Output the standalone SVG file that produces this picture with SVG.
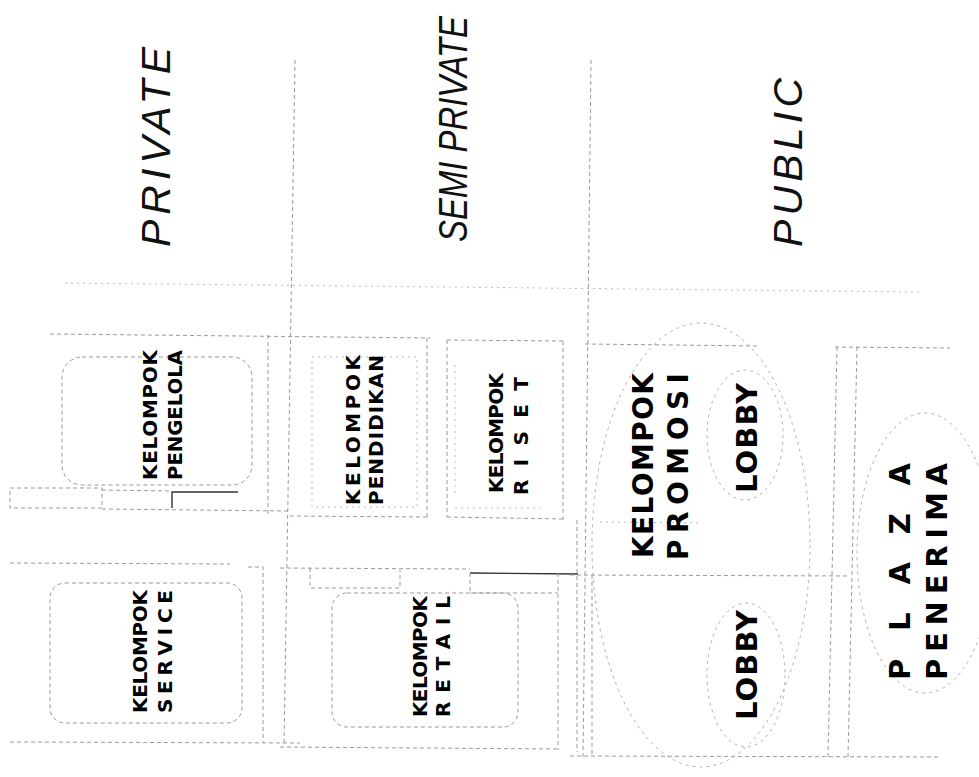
<svg xmlns="http://www.w3.org/2000/svg" width="979" height="777" viewBox="0 0 979 777">
<style>
.d{fill:none;stroke:#9a9a9a;stroke-width:1;stroke-dasharray:4 3}
.f{fill:none;stroke:#bbbbbb;stroke-width:1;stroke-dasharray:2 4}
.s{fill:none;stroke:#333;stroke-width:1.4}
.e{fill:none;stroke:#b0b0b0;stroke-width:1;stroke-dasharray:3 4}
.h{font-family:"Liberation Sans",Arial,sans-serif;font-style:italic;font-size:41px;fill:#111}
.l{font-family:"DejaVu Sans","Liberation Sans",sans-serif;font-weight:bold;font-size:20px;fill:#000}
.b{font-family:"DejaVu Sans","Liberation Sans",sans-serif;font-weight:bold;font-size:29px;fill:#000}
</style>
<rect width="979" height="777" fill="#fff"/>

<g id="zones">
  <text class="h" transform="translate(170,247) rotate(-90)" textLength="200" lengthAdjust="spacing">PRIVATE</text>
  <text class="h" style="font-size:33px" transform="translate(467,242) rotate(-90) scale(1,1.22)" textLength="226" lengthAdjust="spacingAndGlyphs">SEMI PRIVATE</text>
  <text class="h" transform="translate(802,247) rotate(-90)" textLength="169" lengthAdjust="spacing">PUBLIC</text>
</g>

<g id="connectors">
  <!-- main zone dividers -->
  <path class="d" d="M295,60 L284,745"/>
  <path class="d" d="M591,60 L583,757"/>
  <!-- long horizontals -->
  <path class="f" d="M65,283 L920,292"/>
  <path class="d" d="M50,334 L430,338"/>
  <path class="d" d="M585,344 L760,346"/>
  <path class="d" d="M835,347 L950,348"/>
  <!-- private region -->
  <path class="d" d="M268,335 L268,515"/>
  <rect class="d" x="10" y="488" width="92" height="20"/>
  <path class="d" d="M102,490 L172,491"/>
  <path class="s" d="M172,508 L172,492 L238,492"/>
  <path class="d" d="M102,509 L290,511"/>
  <path class="d" d="M10,563 L230,564"/>
  <path class="d" d="M248,567 H263 V742"/>
  <path class="d" d="M10,742 L300,743"/>
  <!-- semi private region -->
  <path class="d" d="M290,516 L430,517 M427,338 L427,517"/>
  <path class="d" d="M447,340 L563,341 M447,340 L447,517 M563,341 L563,520 M447,517 L563,519"/>
  <path class="f" d="M455,365 L455,493 M455,508 L540,508"/>
  <path class="d" d="M280,568 L470,569"/>
  <path class="d" d="M310,568 V588 H400 V570"/>
  <path class="s" d="M470,573 L578,574"/>
  <path class="d" d="M470,573 V593 H558 M558,573 V750"/>
  <path class="d" d="M280,747 L560,749"/>
  <path class="d" d="M577,520 L577,752 M592,575 L592,755"/>
  <!-- public region -->
  <path class="f" d="M600,522 L700,523"/>
  <path class="d" d="M570,575 L850,576"/>
  <path class="d" d="M570,756 L940,757"/>
  <path class="d" d="M837,347 L828,757 M857,347 L848,757"/>
</g>

<g id="pengelola">
  <rect class="d" x="62" y="357" width="190" height="128" rx="20"/>
  <text class="l" transform="translate(157,480) rotate(-90)" textLength="130" lengthAdjust="spacing">KELOMPOK</text>
  <text class="l" transform="translate(182,480) rotate(-90)" textLength="130" lengthAdjust="spacingAndGlyphs">PENGELOLA</text>
</g>

<g id="service">
  <rect class="d" x="50" y="583" width="192" height="140" rx="15"/>
  <text class="l" transform="translate(147,713) rotate(-90)" textLength="123" lengthAdjust="spacing">KELOMPOK</text>
  <text class="l" transform="translate(172,713) rotate(-90)" textLength="123" lengthAdjust="spacing">SERVICE</text>
</g>

<g id="pendidikan">
  <rect class="f" x="312" y="357" width="105" height="150"/>
  <text class="l" transform="translate(360,505) rotate(-90)" textLength="150" lengthAdjust="spacing">KELOMPOK</text>
  <text class="l" transform="translate(383,505) rotate(-90)" textLength="150" lengthAdjust="spacing">PENDIDIKAN</text>
</g>

<g id="riset">
  <text class="l" transform="translate(503,493) rotate(-90)" textLength="120" lengthAdjust="spacing">KELOMPOK</text>
  <text class="l" transform="translate(528,495) rotate(-90)" textLength="118" lengthAdjust="spacing">RISET</text>
</g>

<g id="retail">
  <rect class="d" x="332" y="593" width="186" height="134" rx="15"/>
  <text class="l" transform="translate(427,717) rotate(-90)" textLength="121" lengthAdjust="spacing">KELOMPOK</text>
  <text class="l" transform="translate(450,717) rotate(-90)" textLength="121" lengthAdjust="spacing">RETAIL</text>
</g>

<g id="promosi">
  <ellipse class="e" cx="701" cy="545" rx="109" ry="222"/>
  <text class="b" style="font-size:28px" transform="translate(653,558) rotate(-90)" textLength="185" lengthAdjust="spacing">KELOMPOK</text>
  <text class="b" style="font-size:28px" transform="translate(688,560) rotate(-90)" textLength="187" lengthAdjust="spacing">PROMOSI</text>
</g>

<g id="lobby-1">
  <ellipse class="e" cx="745" cy="435" rx="38" ry="65"/>
  <text class="b" transform="translate(757,493) rotate(-90)" textLength="110" lengthAdjust="spacing">LOBBY</text>
</g>

<g id="lobby-2">
  <ellipse class="e" cx="746" cy="675" rx="39" ry="72"/>
  <text class="b" transform="translate(757,720) rotate(-90)" textLength="110" lengthAdjust="spacing">LOBBY</text>
</g>

<g id="plaza">
  <ellipse class="e" cx="925" cy="553" rx="68" ry="140"/>
  <text class="b" transform="translate(910,680) rotate(-90)" textLength="217" lengthAdjust="spacing">PLAZA</text>
  <text class="b" transform="translate(947,680) rotate(-90)" textLength="217" lengthAdjust="spacing">PENERIMA</text>
</g>
</svg>
